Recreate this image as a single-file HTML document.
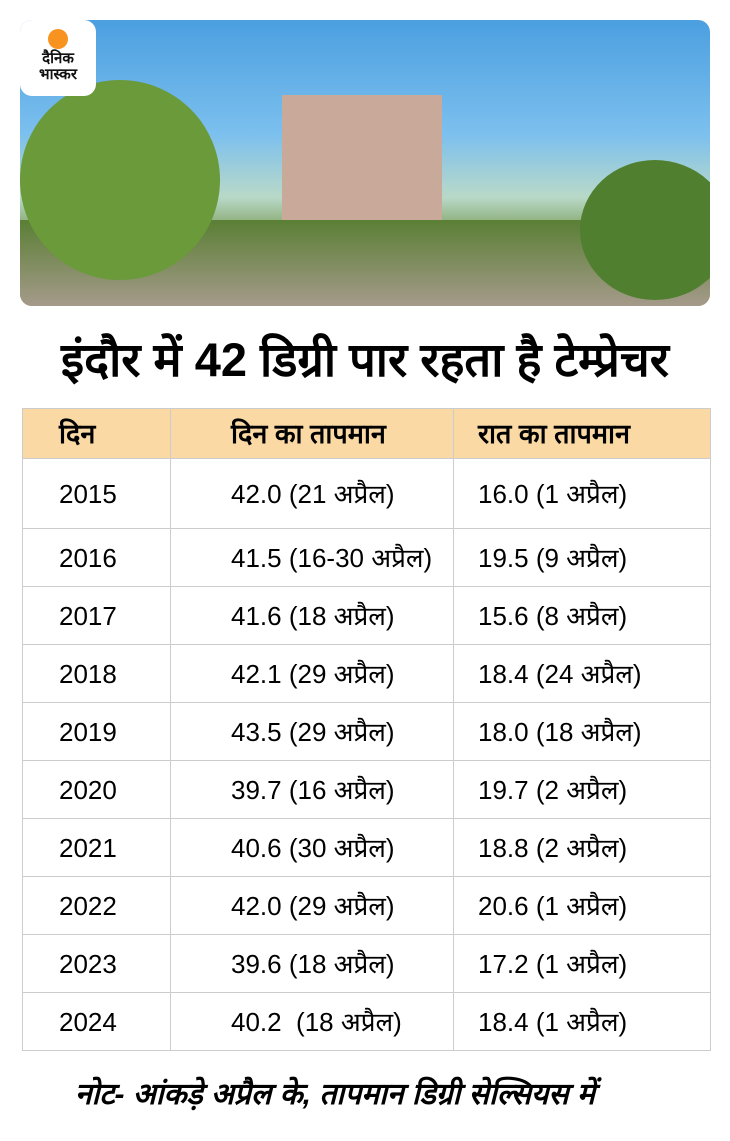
<!DOCTYPE html>
<html><head><meta charset="utf-8"><style>
body{margin:0;width:730px;height:1141px;background:#fff;position:relative;font-family:"Liberation Sans","Noto Sans CJK SC",sans-serif;overflow:hidden}
.photo{position:absolute;left:20px;top:20px;width:690px;height:286px;border-radius:12px;overflow:hidden;background:linear-gradient(180deg,#4b9fe0 0%,#7cc0ee 40%,#b9d9c8 62%,#6d8f3f 78%,#8c8f70 100%)}
.logo{position:absolute;left:20px;top:20px;width:76px;height:76px;background:#fff;border-radius:12px;text-align:center}
.logo .sun{width:20px;height:20px;border-radius:50%;background:#f7931e;margin:9px auto 2px}
.logo div.t{font-weight:bold;font-size:15px;line-height:16px;color:#111}
h1{position:absolute;left:0;width:730px;top:334px;margin:0;text-align:center;font-size:47px;font-weight:bold;line-height:52px;white-space:nowrap}
table{position:absolute;left:22px;top:408px;width:688px;border-collapse:collapse;font-size:26px;table-layout:fixed}
td{border:1px solid #ccc;padding:0;vertical-align:middle;white-space:nowrap;overflow:hidden;box-sizing:border-box}
td span{display:inline-block;height:34px;line-height:34px;overflow:visible}
tr.h td{background:#fad9a4;height:50px;font-weight:bold;font-size:27px}
td:nth-child(1){padding-left:36px}
td:nth-child(2){padding-left:60px}
td:nth-child(3){padding-left:24px}
.note{position:absolute;left:75px;top:1072px;font-size:30px;font-weight:bold;font-style:italic;white-space:nowrap}
</style></head><body>
<div class="photo">
<div style="position:absolute;left:262px;top:75px;width:160px;height:160px;background:#c9a99a"></div>
<div style="position:absolute;left:0;top:200px;width:690px;height:86px;background:linear-gradient(180deg,#5a7f34,#a59a8a)"></div>
<div style="position:absolute;left:0;top:60px;width:200px;height:200px;background:#6a9a3a;border-radius:50%"></div>
<div style="position:absolute;left:560px;top:140px;width:150px;height:140px;background:#4f7f2f;border-radius:50%"></div>
</div>
<div class="logo"><div class="sun"></div><div class="t">दैनिक</div><div class="t">भास्कर</div></div>
<h1>इंदौर में 42 डिग्री पार रहता है टेम्प्रेचर</h1>
<table>
<colgroup><col style="width:148px"><col style="width:283px"><col style="width:257px"></colgroup>
<tr class="h"><td><span>दिन</span></td><td><span>दिन का तापमान</span></td><td><span>रात का तापमान</span></td></tr>
<tr style="height:70px"><td><span>2015</span></td><td><span>42.0 (21 अप्रैल)</span></td><td><span>16.0 (1 अप्रैल)</span></td></tr>
<tr style="height:58px"><td><span>2016</span></td><td><span>41.5 (16-30 अप्रैल)</span></td><td><span>19.5 (9 अप्रैल)</span></td></tr>
<tr style="height:58px"><td><span>2017</span></td><td><span>41.6 (18 अप्रैल)</span></td><td><span>15.6 (8 अप्रैल)</span></td></tr>
<tr style="height:58px"><td><span>2018</span></td><td><span>42.1 (29 अप्रैल)</span></td><td><span>18.4 (24 अप्रैल)</span></td></tr>
<tr style="height:58px"><td><span>2019</span></td><td><span>43.5 (29 अप्रैल)</span></td><td><span>18.0 (18 अप्रैल)</span></td></tr>
<tr style="height:58px"><td><span>2020</span></td><td><span>39.7 (16 अप्रैल)</span></td><td><span>19.7 (2 अप्रैल)</span></td></tr>
<tr style="height:58px"><td><span>2021</span></td><td><span>40.6 (30 अप्रैल)</span></td><td><span>18.8 (2 अप्रैल)</span></td></tr>
<tr style="height:58px"><td><span>2022</span></td><td><span>42.0 (29 अप्रैल)</span></td><td><span>20.6 (1 अप्रैल)</span></td></tr>
<tr style="height:58px"><td><span>2023</span></td><td><span>39.6 (18 अप्रैल)</span></td><td><span>17.2 (1 अप्रैल)</span></td></tr>
<tr style="height:58px"><td><span>2024</span></td><td><span>40.2 &nbsp;(18 अप्रैल)</span></td><td><span>18.4 (1 अप्रैल)</span></td></tr>
</table>
<div class="note">नोट- आंकड़े अप्रैल के, तापमान डिग्री सेल्सियस में</div>
</body></html>
